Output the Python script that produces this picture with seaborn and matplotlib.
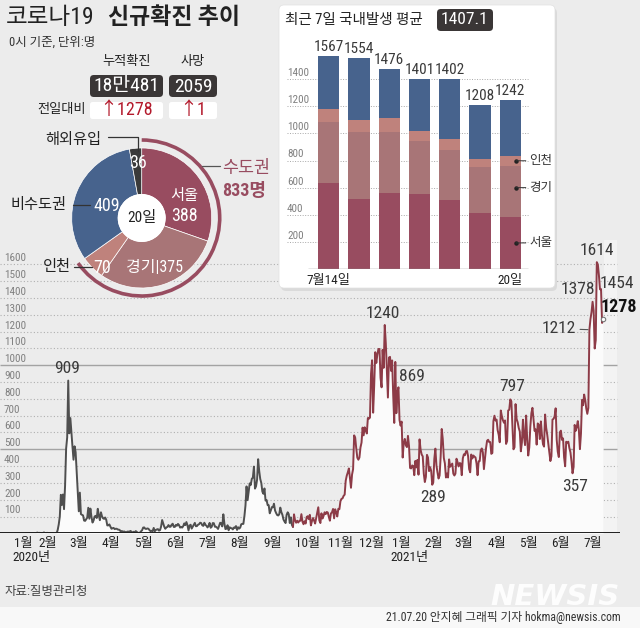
import numpy as np
import pandas as pd
import matplotlib
matplotlib.use("Agg")
import matplotlib.pyplot as plt
import matplotlib.dates as mdates
import matplotlib.transforms as mtrans
from matplotlib import font_manager as fm
from matplotlib.patches import FancyBboxPatch, Circle, Arc, Rectangle
from matplotlib.lines import Line2D
import seaborn as sns
from datetime import datetime

sns.set_theme(style="white")
_names = {f.name for f in fm.fontManager.ttflist}
NUM, STRETCH, NARROW = None, "normal", True
for c in ["Liberation Sans Narrow", "Roboto Condensed", "Open Sans Condensed", "Noto Sans Condensed",
          "Arial Narrow", "Nimbus Sans Narrow", "Ubuntu Condensed", "DejaVu Sans Condensed"]:
    if c in _names:
        NUM = c
        break
if NUM is None:
    for f in fm.fontManager.ttflist:
        if str(f.stretch) in ("condensed", "semi-condensed", "extra-condensed") and \
                f.name in ("Roboto", "Noto Sans", "Open Sans", "DejaVu Sans", "Liberation Sans", "Inter", "Lato"):
            NUM, STRETCH = f.name, str(f.stretch)
            break
if NUM is None:
    NUM, NARROW = "Liberation Sans", False
KR = "Noto Sans CJK KR"
plt.rcParams["font.family"] = [KR, "DejaVu Sans"]
FN = [NUM, KR, "DejaVu Sans"]
K = 1.0 if NARROW else 0.88   # size factor for numeric labels

# ---------------- data ----------------
# daily new cases (0시 기준), per month
jan20 = [1, 0, 0, 0, 1, 0, 1, 1, 0, 0, 3, 4]            # from Jan 20
feb20 = [1, 3, 0, 1, 2, 5, 1, 0, 3, 0, 1, 0, 0, 0, 0, 1, 1, 1, 20, 53,
         100, 229, 169, 231, 144, 284, 505, 571, 909]
mar20 = [595, 686, 600, 516, 438, 518, 483, 367, 248, 131, 242, 114, 110, 107, 76, 74, 84, 93, 152, 87,
         147, 98, 64, 76, 100, 104, 91, 146, 105, 78, 125]
apr20 = [101, 89, 86, 94, 81, 47, 47, 53, 39, 27, 30, 32, 25, 27, 27, 22, 22, 18, 8, 13,
         9, 11, 8, 6, 10, 10, 10, 14, 9, 4]
may20 = [9, 6, 13, 8, 3, 2, 4, 12, 18, 34, 35, 27, 26, 29, 27, 19, 13, 15, 13, 32,
         12, 20, 23, 25, 16, 19, 40, 79, 58, 39, 27]
jun20 = [35, 38, 49, 39, 39, 51, 57, 38, 38, 50, 45, 56, 49, 34, 37, 34, 43, 59, 49, 67,
         48, 17, 46, 51, 28, 39, 51, 62, 42, 43]
jul20 = [51, 54, 63, 61, 48, 44, 63, 50, 45, 35, 44, 62, 33, 39, 61, 60, 39, 39, 34, 26,
         45, 63, 59, 41, 113, 58, 25, 28, 48, 18, 36]
aug20 = [31, 30, 23, 34, 33, 43, 20, 36, 28, 34, 54, 56, 56, 103, 166, 279, 197, 246, 297, 288,
         324, 332, 397, 266, 280, 320, 441, 371, 323, 299, 248]
sep20 = [235, 267, 195, 198, 168, 167, 119, 136, 156, 155, 176, 136, 121, 109, 106, 113, 153, 126, 110, 82,
         70, 61, 110, 125, 114, 61, 95, 50, 38, 113]
oct20 = [77, 63, 75, 64, 73, 75, 114, 69, 54, 72, 58, 97, 102, 84, 110, 47, 73, 91, 76, 58,
         91, 121, 155, 77, 61, 119, 88, 103, 125, 114, 127]
nov20 = [124, 97, 75, 118, 125, 145, 89, 143, 126, 100, 146, 143, 191, 205, 208, 223, 230, 313, 343, 363,
         386, 330, 271, 349, 382, 583, 569, 504, 450, 438]
dec20 = [451, 511, 540, 629, 583, 631, 615, 594, 686, 682, 689, 950, 1030, 718, 880, 1078, 1014, 1064, 1097, 1097,
         926, 869, 1092, 985, 1240, 1132, 970, 808, 1046, 1050, 967]
jan21 = [1029, 824, 657, 1020, 715, 840, 869, 674, 641, 665, 451, 537, 562, 524, 513, 580, 520, 389, 386, 404,
         401, 346, 431, 392, 437, 349, 559, 497, 469, 458, 355]
feb21 = [305, 336, 467, 451, 370, 393, 372, 289, 303, 444, 504, 403, 362, 326, 344, 457, 621, 561, 448, 416,
         332, 356, 332, 440, 396, 406, 415, 355]
mar21 = [344, 355, 444, 424, 398, 418, 416, 346, 446, 470, 465, 488, 490, 459, 382, 363, 469, 445, 463, 456,
         452, 415, 346, 428, 430, 494, 505, 482, 382, 447, 506]
apr21 = [551, 557, 543, 543, 473, 478, 668, 700, 671, 677, 614, 587, 542, 731, 698, 673, 658, 672, 532, 549,
         731, 735, 797, 785, 644, 500, 512, 769, 680, 661]
may21 = [627, 606, 488, 541, 676, 574, 525, 701, 564, 463, 511, 635, 715, 747, 681, 610, 619, 528, 654, 646,
         561, 666, 585, 530, 516, 707, 629, 587, 533, 480, 430]
jun21 = [459, 677, 681, 695, 744, 556, 485, 454, 602, 611, 556, 565, 452, 399, 545, 540, 545, 507, 482, 429,
         357, 395, 645, 610, 634, 668, 614, 501, 595, 794]
jul21 = [762, 826, 794, 743, 711, 746, 1212, 1275, 1316, 1378, 1324, 1100, 1150, 1614, 1600, 1536, 1452, 1454, 1252, 1278]

month_series = [("2020-01-20", jan20), ("2020-02-01", feb20), ("2020-03-01", mar20), ("2020-04-01", apr20),
                ("2020-05-01", may20), ("2020-06-01", jun20), ("2020-07-01", jul20), ("2020-08-01", aug20),
                ("2020-09-01", sep20), ("2020-10-01", oct20), ("2020-11-01", nov20), ("2020-12-01", dec20),
                ("2021-01-01", jan21), ("2021-02-01", feb21), ("2021-03-01", mar21), ("2021-04-01", apr21),
                ("2021-05-01", may21), ("2021-06-01", jun21), ("2021-07-01", jul21)]

# peak labels: (date, value, dx px, dy px)
peak_labels = [("2020-02-29", 909, -1, 12), ("2020-12-25", 1240, -2, 11), ("2021-01-07", 869, 13, 11),
               ("2021-02-08", 289, 1, -13), ("2021-04-23", 797, 2, 13), ("2021-06-21", 357, 3, -13),
               ("2021-07-10", 1378, -15, 12), ("2021-07-14", 1614, 0, 12), ("2021-07-18", 1454, 16, 6)]

# donut (20일)
donut_names = ["서울", "경기", "인천", "비수도권", "해외유입"]
donut_vals = [388, 375, 70, 409, 36]
metro_total = 833

# 7-day stacked bars
bar_days = ["7월14일", "15", "16", "17", "18", "19", "20일"]
seoul = [637, 517, 564, 556, 512, 412, 388]
gyeonggi = [449, 493, 448, 388, 368, 338, 375]
incheon = [95, 90, 98, 73, 78, 59, 70]
nonmetro = [386, 454, 366, 384, 444, 399, 409]
bar_totals = [1567, 1554, 1476, 1401, 1402, 1208, 1242]
avg7 = "1407.1"

C_SEOUL, C_GG, C_IC, C_NON, C_IMP = "#984c60", "#a87577", "#bf827c", "#47638d", "#3a3a3a"
C_RED = "#8d3b47"

# ---------------- figure ----------------
W, H = 640, 628
fig = plt.figure(figsize=(6.4, 6.28), dpi=100)
fig.patch.set_facecolor("#ececec")
fx = lambda x: x / W
fy = lambda y: 1 - y / H
TXT = dict(family=FN, fontstretch=STRETCH)

fig.add_artist(Rectangle((0, 0), 1, 21 / H, transform=fig.transFigure, fc="#f8f8f8", ec="none", zorder=0))

# ---------------- main time series ----------------
ax = fig.add_axes([0, fy(533.3), 1, 293.3 / H])
ax.patch.set_alpha(0)
base = mdates.date2num(datetime(2020, 1, 1))
PXD = 1.055
d2x = lambda px: base + (px - 6) / PXD
ax.set_xlim(d2x(0), d2x(640))
ax.set_ylim(0, 293.3 / 0.168)

frames = []
for start, vals in month_series:
    frames.append(pd.DataFrame({"date": pd.date_range(start, periods=len(vals)), "cases": vals}))
df = pd.concat(frames, ignore_index=True)

cut = pd.Timestamp("2020-09-29")
ax.fill_between(df["date"], df["cases"], color="#fbfbfb", zorder=2, lw=0)
sns.lineplot(data=df[df["date"] <= cut], x="date", y="cases", color="#4f4f4f", linewidth=1.4, ax=ax, zorder=3)
sns.lineplot(data=df[df["date"] >= cut], x="date", y="cases", color=C_RED, linewidth=1.4, ax=ax, zorder=3)

ax.axvspan(d2x(603.5), d2x(617), ymin=0, ymax=1, color="#f3f3f3", zorder=0.5, lw=0)

for v in range(100, 1700, 100):
    if v in (500, 1000):
        ax.hlines(v, d2x(0), d2x(617), colors="#a3a3a3", lw=1.0, zorder=1)
    else:
        ax.hlines(v, d2x(0), d2x(617), colors="#b0b0b0", lw=0.8, linestyles=(0, (1, 2)), zorder=1)
    ax.text(d2x(4), v + 6, str(v), fontsize=8 * K, color="#808080", ha="left", va="bottom", zorder=1, **TXT)
ax.hlines(0, d2x(0), d2x(620), colors="#1e1e1e", lw=1.4, zorder=5)

month_pos, month_lab = [], []
for y_, m in [(2020, mo) for mo in range(1, 13)] + [(2021, mo) for mo in range(1, 8)]:
    dt = datetime(y_, m, 1)
    if (y_, m) == (2020, 1):
        dt = datetime(2020, 1, 9)
    month_pos.append(mdates.date2num(dt))
    month_lab.append(f"{m}월")
ax.set_xticks(month_pos)
ax.set_xticklabels(month_lab, ha="left", fontsize=9.5, color="#222", **TXT)
ax.tick_params(axis="x", length=0, pad=3)
ax.set_yticks([])
ax.set_xlabel("")
ax.set_ylabel("")
for s in ax.spines.values():
    s.set_visible(False)
blend = mtrans.blended_transform_factory(ax.transData, ax.transAxes)
ax.text(mdates.date2num(datetime(2020, 1, 7)), -0.082, "2020년", transform=blend, ha="left", va="center",
        fontsize=9.5, color="#222", **TXT)
ax.text(mdates.date2num(datetime(2020, 12, 30)), -0.082, "2021년", transform=blend, ha="left", va="center",
        fontsize=9.5, color="#222", **TXT)

for d, v, dx, dy in peak_labels:
    ax.annotate(str(v), (mdates.date2num(pd.Timestamp(d)), v), xytext=(dx, dy), textcoords="offset pixels",
                ha="center", va="center", fontsize=12.5 * K, color="#3a3a3a", zorder=6, **TXT)
ax.annotate("1212", (mdates.date2num(pd.Timestamp("2021-07-07")), 1212), xytext=(-14, 1),
            textcoords="offset pixels", ha="right", va="center", fontsize=12.5 * K, color="#3a3a3a",
            arrowprops=dict(arrowstyle="-", color="#555", lw=0.8, shrinkA=1, shrinkB=1), zorder=6, **TXT)
last_d = mdates.date2num(df["date"].iloc[-1])
last_v = df["cases"].iloc[-1]
ax.plot([last_d], [last_v], "o", ms=3.2, mfc="white", mec="#777", mew=0.8, zorder=7)
ax.annotate(str(last_v), (last_d, last_v), xytext=(34, 12), textcoords="offset pixels", ha="right",
            va="center", fontsize=13 * K, fontweight="bold", color="#111", zorder=6, **TXT)

# ---------------- inset panel ----------------
fig.add_artist(FancyBboxPatch((fx(281), fy(291)), 276 / W, 283 / H, boxstyle="round,pad=0,rounding_size=0.008",
                              transform=fig.transFigure, fc="#cfcfcf", ec="none", alpha=0.6, zorder=1))
fig.add_artist(FancyBboxPatch((fx(279), fy(288)), 276 / W, 283 / H, boxstyle="round,pad=0,rounding_size=0.008",
                              transform=fig.transFigure, fc="white", ec="#e2e2e2", lw=0.5, zorder=1.1))
fig.text(fx(285), fy(20), "최근 7일 국내발생 평균", fontsize=10.5, va="center", ha="left", color="#222",
         zorder=5, **TXT)
fig.add_artist(FancyBboxPatch((fx(437), fy(31)), 56 / W, 22 / H, boxstyle="round,pad=0,rounding_size=0.006",
                              transform=fig.transFigure, fc="#3a3636", ec="none", zorder=5))
fig.text(fx(465), fy(20), avg7, fontsize=12.5 * K, va="center", ha="center", color="white", zorder=6, **TXT)

ax2 = fig.add_axes([fx(287), fy(269.3), 243 / W, 229.3 / H], zorder=4)
ax2.patch.set_alpha(0)
bdf = pd.DataFrame({"day": bar_days, "seoul": seoul, "gg": gyeonggi, "ic": incheon, "non": nonmetro})
bdf["l1"] = bdf["seoul"]
bdf["l2"] = bdf["l1"] + bdf["gg"]
bdf["l3"] = bdf["l2"] + bdf["ic"]
bdf["l4"] = bdf["l3"] + bdf["non"]
for col, c in [("l4", C_NON), ("l3", C_IC), ("l2", C_GG), ("l1", C_SEOUL)]:
    sns.barplot(data=bdf, x="day", y=col, order=bar_days, color=c, saturation=1, width=0.7,
                errorbar=None, linewidth=0, ax=ax2, zorder=3)
ax2.set_xlim(-1.378, 6.65)
ax2.set_ylim(0, 229.3 / 0.136)
for v in range(200, 1600, 200):
    ax2.hlines(v, -1.378, 6.58, colors="#a8a8a8", lw=0.7, linestyles=(0, (1, 1.6)), zorder=1)
    ax2.text(-1.378, v + 8, str(v), fontsize=8 * K, color="#808080", ha="left", va="bottom", **TXT)
ax2.hlines(0, -0.684, 6.58, colors="#8a8a8a", lw=1.0, zorder=4)
for i, t in enumerate(bar_totals):
    ax2.annotate(str(t), (i, bdf["l4"][i]), xytext=(0, 2), textcoords="offset pixels", ha="center",
                 va="bottom", fontsize=11 * (K if NARROW else 0.82), color="#3a3a3a", **TXT)
for i in (0, 6):
    ax2.annotate(bar_days[i], (i, 0), xytext=(0, -11), textcoords="offset pixels", ha="center",
                 va="center", fontsize=9.5, color="#222", **TXT)
mids = [("인천", bdf["l2"][6] + bdf["ic"][6] / 2), ("경기", bdf["l1"][6] + bdf["gg"][6] / 2 + 25),
        ("서울", bdf["seoul"][6] / 2)]
for name, m in mids:
    ax2.plot([6.19], [m], "o", ms=2.2, color="#222", zorder=6)
    ax2.annotate(name, (6.19, m), xytext=(13, 0), textcoords="offset pixels", ha="left", va="center",
                 fontsize=9, color="#333",
                 arrowprops=dict(arrowstyle="-", color="#333", lw=0.7, shrinkA=0, shrinkB=0), zorder=6, **TXT)
ax2.set_xticks([])
ax2.set_yticks([])
ax2.set_xlabel("")
ax2.set_ylabel("")
for s in ax2.spines.values():
    s.set_visible(False)

# ---------------- donut ----------------
cx, cy = 141.7, 218
axd = fig.add_axes([fx(cx - 95), fy(cy + 95), 190 / W, 190 / H], zorder=4)
axd.pie(donut_vals, colors=[C_SEOUL, C_GG, C_IC, C_NON, C_IMP], startangle=90, counterclock=False,
        radius=70, wedgeprops=dict(width=46.5, edgecolor="white", linewidth=0.5))
axd.add_patch(Circle((0, 0), 24, fc="white", ec="none", zorder=3))
ring_deg = metro_total / sum(donut_vals) * 360
axd.add_patch(Arc((0, 0), 156, 156, theta1=90 - ring_deg, theta2=90, color=C_SEOUL, lw=2.6, zorder=3))
axd.set_xlim(-95, 95)
axd.set_ylim(-95, 95)
axd.set_aspect("equal")
axd.axis("off")
lab = dict(ha="center", va="center", color="white", zorder=5, **TXT)
axd.text(-3.4, 55, str(donut_vals[4]), fontsize=13 * K, **lab)
axd.text(43, 22, donut_names[0], fontsize=11, **lab)
axd.text(43, 1.5, str(donut_vals[0]), fontsize=13 * K, **lab)
axd.text(13, -50, f"{donut_names[1]}|{donut_vals[1]}", fontsize=11.5, **lab)
axd.text(-40, -50, str(donut_vals[2]), fontsize=13 * K, **lab)
axd.text(-35, 12, str(donut_vals[3]), fontsize=13 * K, **lab)
axd.text(0, 0, "20일", fontsize=11, ha="center", va="center", color="#222", zorder=5, **TXT)

def fline(pts, color="#333", lw=0.9):
    xs = [fx(p[0]) for p in pts]
    ys = [fy(p[1]) for p in pts]
    fig.add_artist(Line2D(xs, ys, transform=fig.transFigure, color=color, lw=lw, zorder=5))

fig.text(fx(73), fy(140), "해외유입", fontsize=11, ha="center", va="center", color="#222", **TXT)
fline([(108, 137), (138, 137), (138, 151)])
fig.text(fx(38.5), fy(205), "비수도권", fontsize=11, ha="center", va="center", color="#222", **TXT)
fline([(73, 205), (90, 205)])
fig.text(fx(57), fy(267), "인천", fontsize=11, ha="center", va="center", color="#222", **TXT)
fline([(74, 267), (92, 267)])
fig.text(fx(222), fy(168), "수도권", fontsize=12.5, ha="left", va="center", color=C_SEOUL, **TXT)
fig.text(fx(222), fy(191), f"{metro_total}명", fontsize=13, fontweight="bold", ha="left", va="center",
         color=C_SEOUL, **TXT)
fline([(202, 166), (220, 166)], color="#555")

# ---------------- header ----------------
fig.text(fx(6), fy(17), "코로나19", fontsize=17, va="center", ha="left", color="#222", **TXT)
fig.text(fx(108), fy(17), "신규확진 추이", fontsize=16.5, fontweight="bold", va="center", ha="left",
         color="#222", **TXT)
fig.text(fx(9), fy(42), "0시 기준, 단위:명", fontsize=9, va="center", ha="left", color="#333", **TXT)
fig.text(fx(126.5), fy(62), "누적확진", fontsize=9.5, va="center", ha="center", color="#222", **TXT)
fig.text(fx(193), fy(62), "사망", fontsize=9.5, va="center", ha="center", color="#222", **TXT)
for (x0, x1) in [(90, 163), (169, 217)]:
    fig.add_artist(FancyBboxPatch((fx(x0), fy(97)), (x1 - x0) / W, 22 / H,
                                  boxstyle="round,pad=0,rounding_size=0.006", transform=fig.transFigure,
                                  fc="#3a3636", ec="none", zorder=3))
    fig.add_artist(FancyBboxPatch((fx(x0), fy(119)), (x1 - x0) / W, 17 / H,
                                  boxstyle="round,pad=0,rounding_size=0.004", transform=fig.transFigure,
                                  fc="white", ec="none", zorder=3))
fig.text(fx(126.5), fy(86.5), "18만481", fontsize=14 * K, va="center", ha="center", color="white", zorder=5, **TXT)
fig.text(fx(193), fy(86.5), "2059", fontsize=14 * K, va="center", ha="center", color="white", zorder=5, **TXT)
fig.text(fx(61.5), fy(110), "전일대비", fontsize=9.5, va="center", ha="center", color="#222", **TXT)
fig.text(fx(126.5), fy(110), "↑1278", fontsize=13 * K, va="center", ha="center", color="#b3192b", zorder=5, **TXT)
fig.text(fx(193), fy(110), "↑1", fontsize=13 * K, va="center", ha="center", color="#b3192b", zorder=5, **TXT)

# ---------------- footer ----------------
fig.text(fx(5), fy(592), "자료:질병관리청", fontsize=9, va="center", ha="left", color="#444", **TXT)
fig.text(fx(555), fy(597), "NEWSIS", fontsize=21, fontweight="heavy", style="italic", va="center",
         ha="center", color="white", alpha=0.9, family="DejaVu Sans")
fig.text(fx(621), fy(618), "21.07.20 안지혜 그래픽 기자 hokma@newsis.com", fontsize=8.5, va="center",
         ha="right", color="#333", **TXT)

fig.savefig("out.png", dpi=100, facecolor=fig.get_facecolor())
